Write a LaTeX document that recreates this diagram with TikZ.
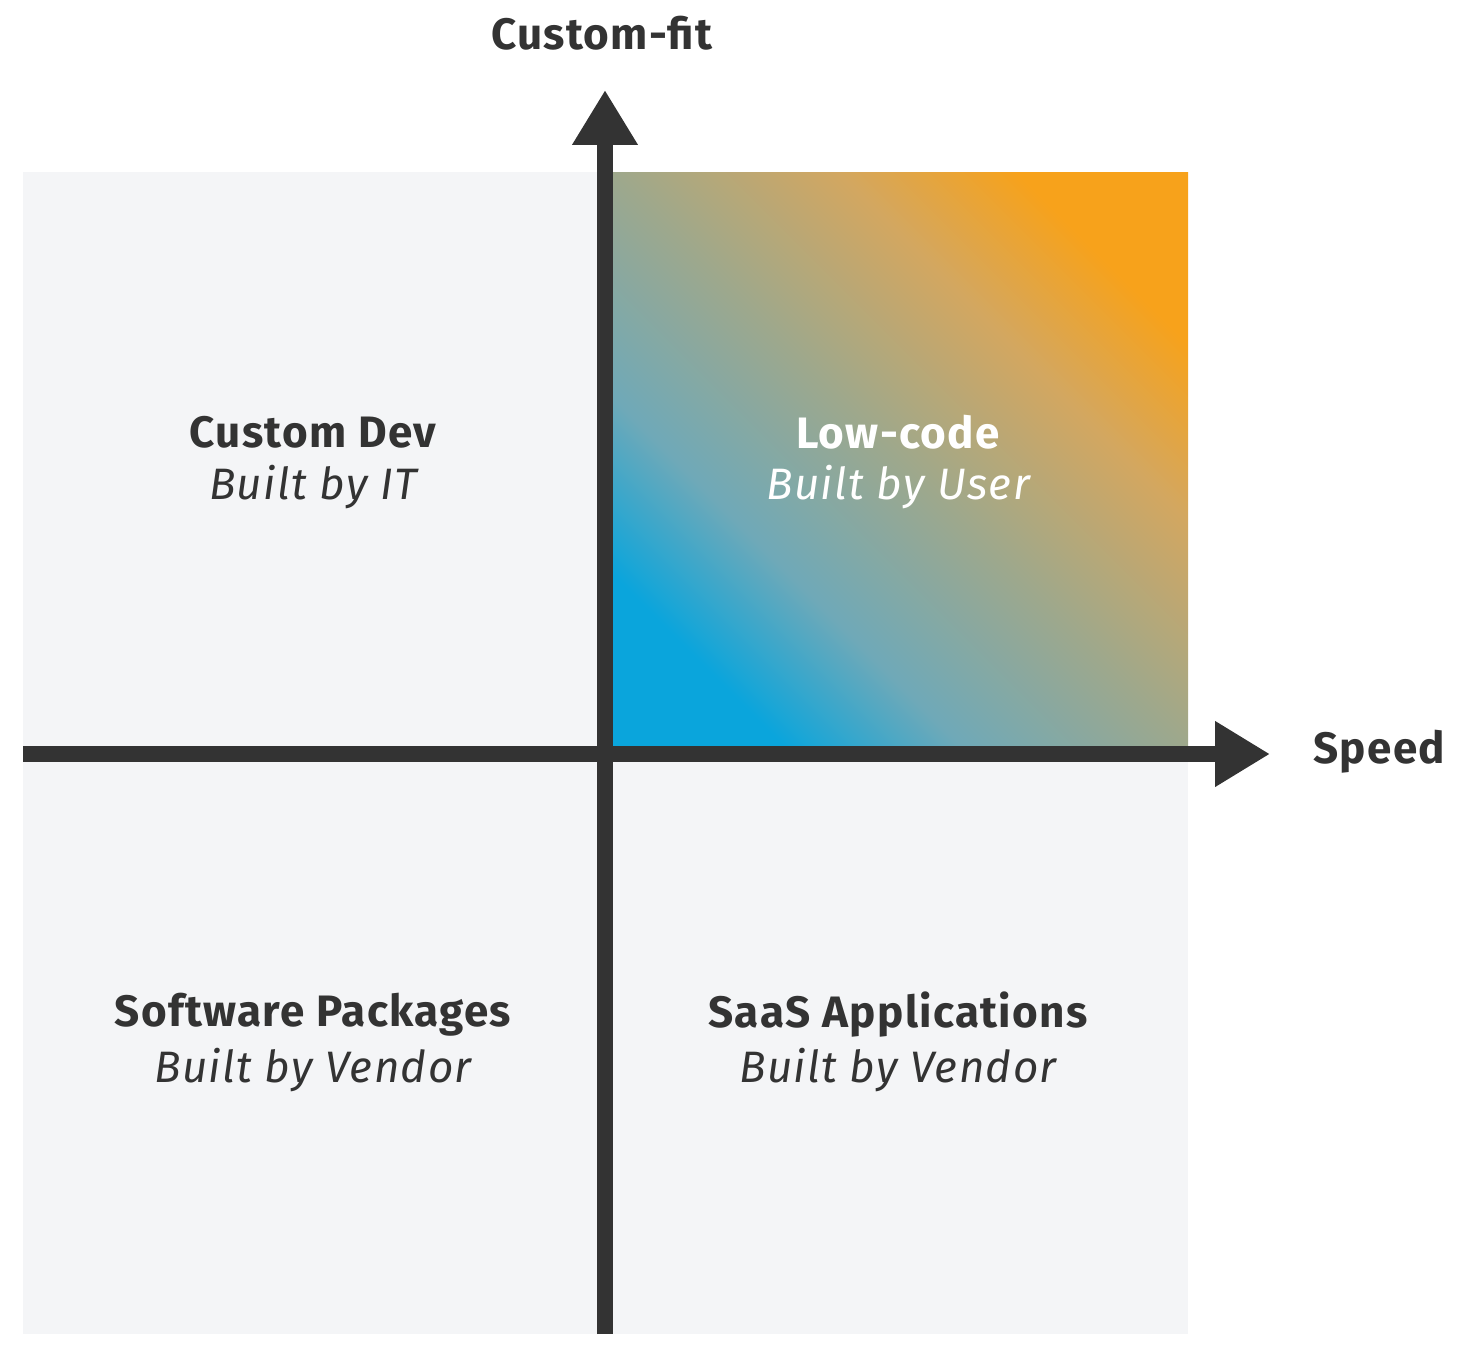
\documentclass[tikz,border=0pt]{standalone}
\usepackage{fontspec}
\setmainfont{Fira Sans}
\usetikzlibrary{arrows.meta}
\definecolor{axisgray}{HTML}{333333}
\definecolor{panel}{HTML}{F4F5F7}
\definecolor{lcblue}{HTML}{0AA5DC}
\definecolor{lcteal}{HTML}{6FA9B8}
\definecolor{lcmid}{HTML}{9EA88C}
\definecolor{lctan}{HTML}{D3A760}
\definecolor{lcorange}{HTML}{F7A21B}
\pgfdeclareverticalshading{lowcode}{100bp}{color(0bp)=(lcblue); color(25bp)=(lcblue);
  color(36bp)=(lcteal); color(50bp)=(lcmid); color(64bp)=(lctan); color(75bp)=(lcorange); color(100bp)=(lcorange)}
\tikzset{
  axis/.style={draw=axisgray, line width=8pt, -{Triangle[length=27.5pt,width=31pt]}},
  title/.style={font=\fontsize{22}{26}\selectfont\addfontfeatures{LetterSpace=3}\bfseries, text=axisgray},
  sub/.style={font=\fontsize{22}{26}\selectfont\addfontfeatures{LetterSpace=3}\itshape, text=axisgray},
}
\begin{document}
\begin{tikzpicture}[x=0.5pt,y=-0.5pt]
\useasboundingbox (0,0) rectangle (1467,1354);
\fill[panel] (23,172) rectangle (1188,1334); % quadrants
\shade[shading=lowcode, shading angle=-45] (613,172) rectangle (1188,746);

\coordinate (xstart) at (23,754);
\coordinate (xend) at (1270,754);
\coordinate (ystart) at (605,1334);
\coordinate (yend) at (605,90);
\draw[axis] (xstart) -- (xend); % speed axis
\draw[axis] (ystart) -- (yend); % custom-fit axis

\node[title] (yname) at (602,33) {Custom-fit};
\node[title, right, inner sep=0pt] (xname) at (1313,752) {Speed};

\node[title] (devtitle) at (313,432) {Custom Dev};
\node[sub] (devsub) at (313,487) {Built by IT};
\node[title, text=white] (lctitle) at (898,432) {Low-code};
\node[sub, text=white] (lcsub) at (898,487) {Built by User};
\node[title] (swtitle) at (313,1015) {Software Packages};
\node[sub] (swsub) at (313,1070) {Built by Vendor};
\node[title] (saastitle) at (898,1015) {SaaS Applications};
\node[sub] (saassub) at (898,1070) {Built by Vendor};
\end{tikzpicture}
\end{document}
